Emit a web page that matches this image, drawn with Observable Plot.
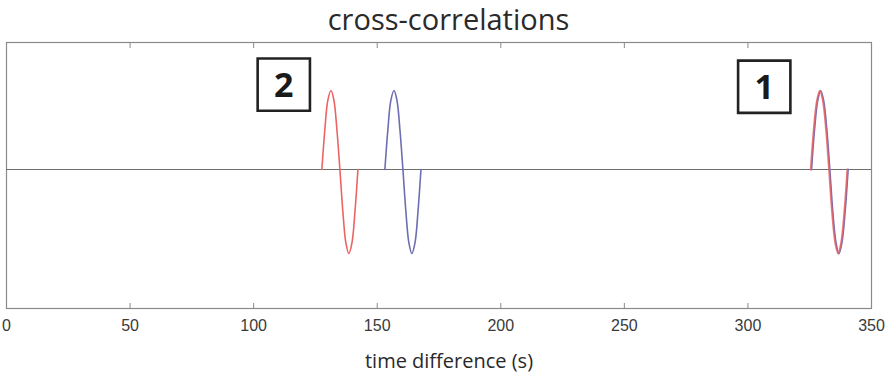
<!DOCTYPE html>
<html>
<head>
<meta charset="utf-8">
<script src="https://cdn.jsdelivr.net/npm/d3@7"></script>
<script src="https://cdn.jsdelivr.net/npm/@observablehq/plot@0.6"></script>
<style>
  html, body { margin: 0; padding: 0; background: #fff; }
  #chart svg { display: block; }
</style>
</head>
<body>
<div id="chart"></div>
<script>
// Cross-correlation wavelets: time (s) and amplitude for each trace
const red2Time  = [127.6, 128.8, 130.0, 131.3, 132.5, 133.7, 134.9, 136.1, 137.3, 138.5, 139.8, 141.0, 142.2];
const blue2Time = [153.1, 154.3, 155.5, 156.8, 158.0, 159.2, 160.4, 161.6, 162.8, 164.0, 165.3, 166.5, 167.7];
const red1Time  = [325.4, 326.6, 327.9, 329.1, 330.3, 331.6, 332.8, 334.0, 335.3, 336.5, 337.7, 339.0, 340.2];
const blue1Time = [325.7, 326.9, 328.2, 329.4, 330.6, 331.9, 333.1, 334.3, 335.6, 336.8, 338.0, 339.3, 340.5];
const red2Amp   = [0, 0.47, 0.82, 0.94, 0.82, 0.47, 0, -0.5, -0.87, -1, -0.87, -0.5, 0];
const blue2Amp  = [0, 0.47, 0.82, 0.94, 0.82, 0.47, 0, -0.5, -0.87, -1, -0.87, -0.5, 0];
const red1Amp   = [0, 0.47, 0.82, 0.94, 0.82, 0.47, 0, -0.5, -0.87, -1, -0.87, -0.5, 0];
const blue1Amp  = [0, 0.47, 0.82, 0.94, 0.82, 0.47, 0, -0.5, -0.87, -1, -0.87, -0.5, 0];

// Numbered event labels (placed in data units)
const labelText = ["2", "1"];
const labelTime = [112.2, 306.6];
const labelAmp  = [1.01, 0.985];

const xTicks = [0, 50, 100, 150, 200, 250, 300, 350];
const titleText = "cross-correlations";
const xLabel = "time difference (s)";

const trace = (time, amp) => time.map((t, i) => ({t, a: amp[i]}));
const labels = labelText.map((s, i) => ({s, t: labelTime[i], a: labelAmp[i]}));

const textFont = "'Open Sans', 'Noto Sans', sans-serif";

const chart = Plot.plot({
  width: 887,
  height: 376,
  marginTop: 42,
  marginBottom: 68,
  marginLeft: 6,
  marginRight: 16,
  style: {background: "#fff", fontFamily: "'Liberation Sans', Arial, sans-serif"},
  x: {domain: [0, 350]},
  y: {domain: [-1.655, 1.512], axis: null},
  marks: [
    Plot.frame({stroke: "#8a8a8a", strokeWidth: 1.2}),
    Plot.ruleY([0], {stroke: "#6e6e6e", strokeWidth: 1.1}),
    Plot.axisX({anchor: "bottom", ticks: xTicks, tickSize: -5, tickPadding: 16,
      fontSize: 16, color: "#3a3a3a", stroke: "#8a8a8a", label: null}),
    Plot.axisX({anchor: "top", ticks: xTicks, tickSize: -5, tickFormat: () => "",
      stroke: "#8a8a8a", label: null}),
    Plot.line(trace(blue2Time, blue2Amp), {x: "t", y: "a", stroke: "#6d6db3", strokeWidth: 1.6, curve: "catmull-rom"}),
    Plot.line(trace(red2Time, red2Amp), {x: "t", y: "a", stroke: "#ea6464", strokeWidth: 1.6, curve: "catmull-rom"}),
    Plot.line(trace(blue1Time, blue1Amp), {x: "t", y: "a", stroke: "#6d6db3", strokeWidth: 1.8, curve: "catmull-rom"}),
    Plot.line(trace(red1Time, red1Amp), {x: "t", y: "a", stroke: "#ea6464", strokeWidth: 1.8, curve: "catmull-rom", strokeOpacity: 0.85}),
    Plot.dot(labels, {x: "t", y: "a", symbol: "square", r: 29.5, fill: "#fff", stroke: "#222", strokeWidth: 2.6}),
    Plot.text(labels, {x: "t", y: "a", text: "s", fontSize: 34, fontWeight: "bold",
      fontFamily: textFont, fill: "#1a1a1a", dy: 1}),
    Plot.text([titleText], {frameAnchor: "top", lineAnchor: "bottom", dx: 9.5, dy: -13,
      fontSize: 29, fontFamily: textFont, fill: "#2a2a2a"}),
    Plot.text([xLabel], {frameAnchor: "bottom", lineAnchor: "bottom", dx: 10, dy: 59,
      fontSize: 20, fontFamily: textFont, fill: "#2a2a2a"})
  ]
});

document.getElementById("chart").appendChild(chart);
</script>
</body>
</html>
